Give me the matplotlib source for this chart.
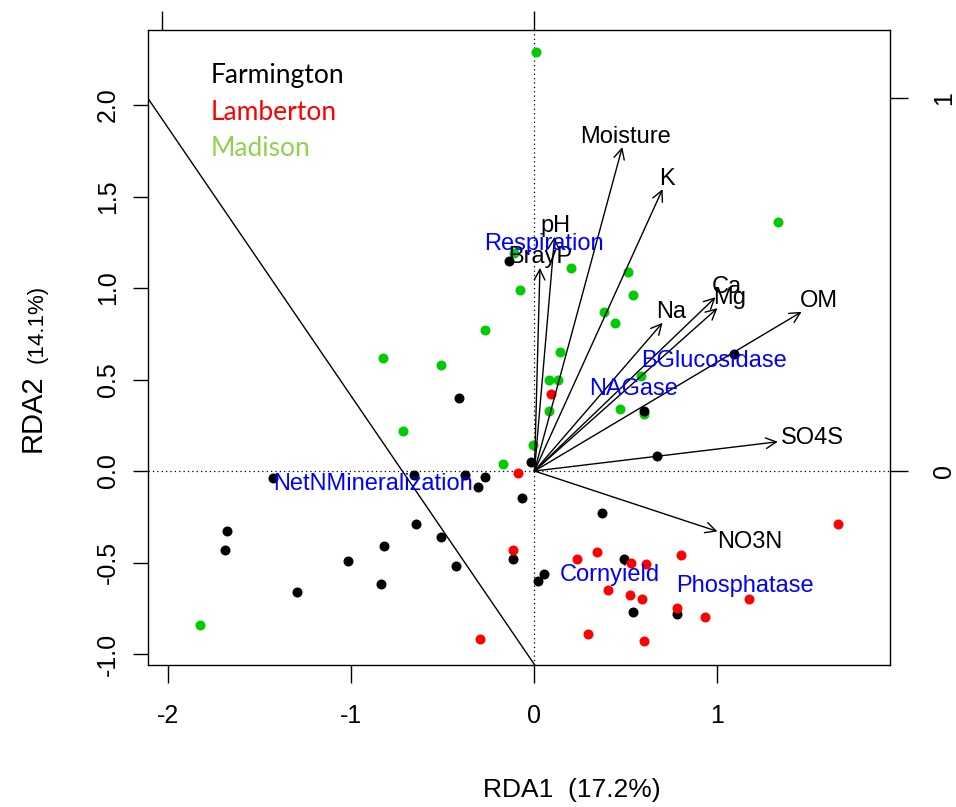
import numpy as np
import matplotlib
matplotlib.use("Agg")
import matplotlib.pyplot as plt

plt.rcParams['font.family'] = ['Liberation Sans', 'DejaVu Sans']
plt.rcParams['axes.unicode_minus'] = False

# site scores (RDA1, RDA2)
farm_x = [-0.14, -0.41, -1.43, -0.66, -0.38, -0.27, -0.31, -0.02, -0.07, -0.65,
          -0.51, -0.43, -1.68, -1.69, -0.82, -1.02, -0.84, -1.30, -0.12, 0.05,
          0.02, 0.37, 0.49, 0.54, 0.78, 1.09, 0.60, 0.67]
farm_y = [1.15, 0.40, -0.04, -0.02, -0.02, -0.03, -0.09, 0.05, -0.15, -0.29,
          -0.36, -0.52, -0.33, -0.43, -0.41, -0.49, -0.62, -0.66, -0.48, -0.56,
          -0.60, -0.23, -0.48, -0.77, -0.78, 0.64, 0.33, 0.08]

lamb_x = [0.09, -0.09, -0.12, -0.30, 0.23, 0.34, 0.53, 0.61, 0.80, 0.40,
          0.52, 0.59, 1.17, 0.78, 0.93, 0.29, 0.60, 1.66]
lamb_y = [0.42, -0.01, -0.43, -0.92, -0.48, -0.44, -0.50, -0.51, -0.46, -0.65,
          -0.68, -0.70, -0.70, -0.75, -0.80, -0.89, -0.93, -0.29]

mad_x = [0.01, 1.33, -0.83, -0.51, -0.27, -0.08, -0.72, -0.11, 0.20, 0.51,
         0.54, 0.38, 0.44, 0.14, 0.08, 0.13, 0.08, 0.58, 0.47, 0.60,
         -0.01, -0.17, -1.83]
mad_y = [2.29, 1.36, 0.62, 0.58, 0.77, 0.99, 0.22, 1.19, 1.11, 1.09,
         0.96, 0.87, 0.81, 0.65, 0.50, 0.50, 0.33, 0.52, 0.34, 0.31,
         0.14, 0.04, -0.84]

# environmental biplot arrows (tips)
env_names = ["Moisture", "K", "pH", "BrayP", "Na", "Ca", "Mg", "OM", "SO4S", "NO3N"]
env_x = [0.48, 0.70, 0.11, 0.03, 0.70, 0.99, 1.00, 1.46, 1.33, 1.00]
env_y = [1.77, 1.54, 1.28, 1.11, 0.81, 0.95, 0.89, 0.87, 0.16, -0.33]

# response variables (species scores)
resp_names = ["Respiration", "BGlucosidase", "NAGase", "NetNMineralization",
              "Cornyield", "Phosphatase"]
resp_x = [0.05, 0.98, 0.54, -0.88, 0.41, 1.15]
resp_y = [1.24, 0.60, 0.45, -0.07, -0.57, -0.63]

sites = ["Farmington", "Lamberton", "Madison"]
site_text_y = [2.16, 1.96, 1.76]

biplot_mul = 2.037          # primary units per biplot-axis unit
cut_intercept = -1.058
cut_slope = -1.465

W, H = 956, 807
fig = plt.figure(figsize=(W / 100, H / 100), dpi=100)
ax = fig.add_axes([148 / W, 1 - 665 / H, (890 - 148) / W, (665 - 30) / H])
ax.set_xlim(-2.112, 1.943)
ax.set_ylim(-1.060, 2.410)

for s in ax.spines.values():
    s.set_linewidth(1.0)

ax.axhline(0, color="black", lw=0.9, ls=(0, (1, 2.5)), zorder=1)
ax.axvline(0, color="black", lw=0.9, ls=(0, (1, 2.5)), zorder=1)
ax.axline((0, cut_intercept), slope=cut_slope, color="black", lw=1.0, zorder=1)

ax.plot(mad_x, mad_y, "o", color="#00CC00", ms=7.2, mec="none", zorder=3)
ax.plot(farm_x, farm_y, "o", color="black", ms=7.2, mec="none", zorder=3)
ax.plot(lamb_x, lamb_y, "o", color="red", ms=7.2, mec="none", zorder=3)

# arrows with labels pushed just past the tip (like vegan does)
renderer = fig.canvas.get_renderer()
ox, oy = ax.transData.transform((0, 0))
for name, ex, ey in zip(env_names, env_x, env_y):
    ax.annotate("", xy=(ex, ey), xytext=(0, 0),
                arrowprops=dict(arrowstyle="->,head_length=0.75,head_width=0.38",
                                lw=1.0, color="black", shrinkA=0, shrinkB=0),
                zorder=4)
    lab = ax.text(ex, ey, name, ha="center", va="center", fontsize=17, zorder=5)
    bb = lab.get_window_extent(renderer)
    px, py = ax.transData.transform((ex, ey))
    ux, uy = px - ox, py - oy
    n = np.hypot(ux, uy)
    ux, uy = ux / n, uy / n
    hw = bb.width / 2 + 3
    hh = 17 * 0.72 * 100 / 72 / 2 + 2
    tx = hw / abs(ux) if abs(ux) > 1e-6 else np.inf
    ty = hh / abs(uy) if abs(uy) > 1e-6 else np.inf
    t = min(tx, ty)
    lab.set_position(ax.transData.inverted().transform((px + ux * t, py + uy * t)))

for name, rx, ry in zip(resp_names, resp_x, resp_y):
    ax.text(rx, ry, name, ha="center", va="center", fontsize=17,
            color="#0000FF", zorder=5)

for name, ty, c in zip(sites, site_text_y, ["black", "red", "#92D050"]):
    ax.text(-1.77, ty, name, ha="left", va="center", fontsize=19,
            color=c, family=["Lato", "DejaVu Sans"])

# primary axes
ax.set_xticks([-2, -1, 0, 1])
ax.set_xticklabels(["-2", "-1", "0", "1"])
ax.set_yticks([-1.0, -0.5, 0.0, 0.5, 1.0, 1.5, 2.0])
ax.set_yticklabels(["-1.0", "-0.5", "0.0", "0.5", "1.0", "1.5", "2.0"],
                   rotation=90, va="center")
ax.tick_params(axis="x", direction="out", length=13, width=1.0, labelsize=18, pad=15)
ax.tick_params(axis="y", direction="out", length=11, width=1.0, labelsize=18, pad=9)

# biplot axes (top / right)
top = ax.secondary_xaxis("top", functions=(lambda v: v / biplot_mul,
                                           lambda v: v * biplot_mul))
top.set_xticks([-1, 0])
top.tick_params(direction="out", length=14, width=1.0, labeltop=False)
top.spines["top"].set_visible(False)

right = ax.secondary_yaxis("right", functions=(lambda v: v / biplot_mul,
                                               lambda v: v * biplot_mul))
right.set_yticks([0, 1])
right.set_yticklabels(["0", "1"], rotation=90, va="center")
right.tick_params(direction="out", length=13, width=1.0, labelsize=18, pad=17)
right.spines["right"].set_visible(False)

fig.text(572 / W, 1 - 790 / H, "RDA1  (17.2%)", ha="center", va="center", fontsize=19)
fig.text(33 / W, 1 - 413 / H, "RDA2", ha="center", va="center", fontsize=21, rotation=90)
fig.text(37 / W, 1 - 324 / H, "(14.1%)", ha="center", va="center", fontsize=16, rotation=90)

fig.savefig("out.png", dpi=100)
